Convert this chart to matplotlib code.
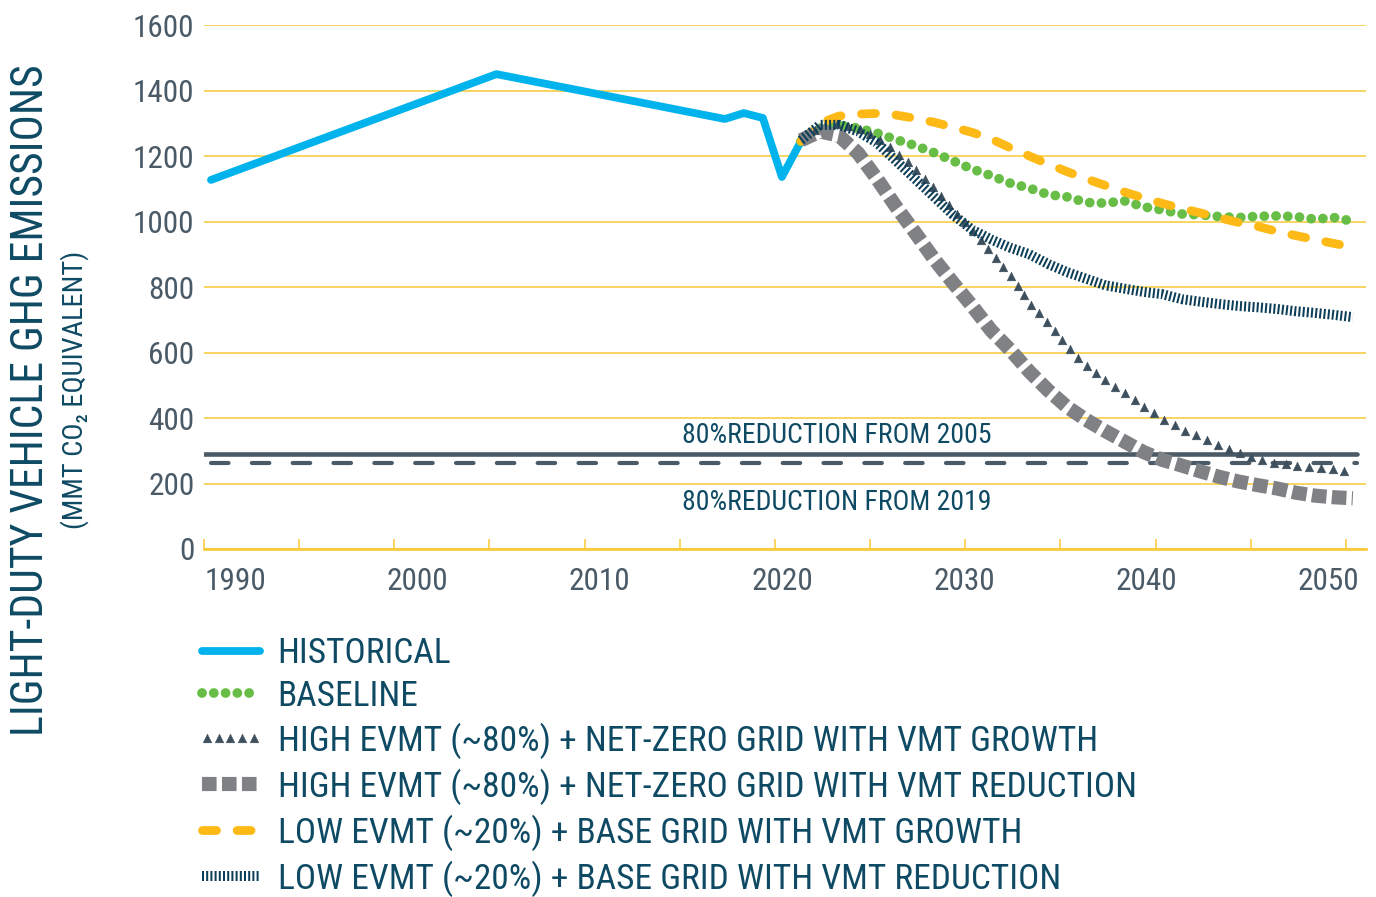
import numpy as np
import matplotlib
matplotlib.use("Agg")
import matplotlib.pyplot as plt
from matplotlib import font_manager, colors as mcolors, markers as mmarkers
from matplotlib.patheffects import AbstractPathEffect
from matplotlib.path import Path
from matplotlib.transforms import Affine2D, IdentityTransform
from matplotlib.ticker import FixedLocator

# ---------------- data ----------------
hist_years = [1990, 2005, 2017, 2018, 2019, 2020, 2021]
historical = [1127, 1450, 1313, 1331, 1316, 1136, 1245]

proj_years = list(range(2021, 2051))
baseline = [1245, 1285, 1295, 1285, 1270, 1250, 1232, 1210, 1185, 1160,
            1140, 1117, 1102, 1082, 1075, 1058, 1056, 1063, 1045, 1035,
            1023, 1020, 1015, 1012, 1016, 1017, 1015, 1007, 1012, 1001]
high_ev_growth = [1250, 1290, 1300, 1285, 1255, 1212, 1160, 1100, 1035, 975,
                  905, 838, 752, 690, 618, 560, 515, 478, 435, 398,
                  366, 341, 316, 294, 276, 262, 254, 250, 245, 235]
high_ev_reduction = [1248, 1275, 1262, 1209, 1130, 1045, 966, 885, 812, 742,
                     667, 608, 542, 484, 433, 394, 360, 328, 296, 272,
                     255, 237, 220, 206, 195, 185, 172, 163, 158, 155]
low_ev_growth = [1245, 1300, 1322, 1328, 1330, 1325, 1315, 1303, 1288, 1272,
                 1252, 1225, 1200, 1175, 1152, 1130, 1110, 1090, 1072, 1055,
                 1040, 1026, 1011, 997, 985, 970, 957, 945, 933, 922]
low_ev_reduction = [1248, 1295, 1295, 1275, 1240, 1185, 1130, 1075, 1020, 975,
                    945, 920, 900, 870, 845, 825, 805, 795, 785, 778,
                    763, 755, 748, 742, 738, 733, 726, 721, 715, 708]

y_ticks = [0, 200, 400, 600, 800, 1000, 1200, 1400, 1600]
x_tick_labels = ["1990", "2000", "2010", "2020", "2030", "2040", "2050"]
legend_labels = [
    "HISTORICAL",
    "BASELINE",
    "HIGH EVMT (~80%) + NET-ZERO GRID WITH VMT GROWTH",
    "HIGH EVMT (~80%) + NET-ZERO GRID WITH VMT REDUCTION",
    "LOW EVMT (~20%) + BASE GRID WITH VMT GROWTH",
    "LOW EVMT (~20%) + BASE GRID WITH VMT REDUCTION",
]
ref_labels = ["80%REDUCTION FROM 2005", "80%REDUCTION FROM 2019"]
reduction_share = 0.2
ylabel_main = "LIGHT-DUTY VEHICLE GHG EMISSIONS"
ylabel_sub = "(MMT CO\u2082 EQUIVALENT)"

# ---------------- fonts ----------------
_names = {f.name for f in font_manager.fontManager.ttflist}
FONT = "DejaVu Sans"
for cand in ["Liberation Sans Narrow", "Roboto Condensed", "Open Sans Condensed",
             "Noto Sans Display", "Roboto", "Lato"]:
    if cand in _names:
        FONT = cand
        break
plt.rcParams["font.family"] = [FONT, "DejaVu Sans"]

# ---------------- colours ----------------
C_HIST = "#00b3ec"
C_BASE = "#67bd45"
C_TRI = "#3e505e"
C_SQ = "#808185"
C_YEL = "#fdb915"
C_NAVY = "#0c3e58"
C_REF = "#4a5a67"
C_GRID = "#f8c935"
C_TEXT = "#0f4a64"
C_TICK = "#4a5a67"


class MarkerTrail(AbstractPathEffect):
    """Draw markers at equal arc-length spacing along the path."""

    def __init__(self, marker="^", size_pt=6.5, spacing_pt=8.6, color="k"):
        super().__init__()
        self.marker = mmarkers.MarkerStyle(marker)
        self.size_pt = size_pt
        self.spacing_pt = spacing_pt
        self.color = mcolors.to_rgba(color)

    def draw_path(self, renderer, gc, tpath, affine, rgbFace=None):
        verts = affine.transform(tpath.vertices)
        if len(verts) < 2:
            return
        seg = np.diff(verts, axis=0)
        d = np.hypot(seg[:, 0], seg[:, 1])
        cum = np.concatenate([[0.0], np.cumsum(d)])
        sp = renderer.points_to_pixels(self.spacing_pt)
        s = np.arange(sp * 0.4, cum[-1] + 1e-9, sp)
        px = np.interp(s, cum, verts[:, 0])
        py = np.interp(s, cum, verts[:, 1])
        mpath = self.marker.get_path().transformed(self.marker.get_transform())
        size = renderer.points_to_pixels(self.size_pt)
        mtrans = Affine2D().scale(size)
        gc0 = renderer.new_gc()
        gc0.copy_properties(gc)
        gc0.set_foreground(self.color)
        gc0.set_linewidth(0.3)
        renderer.draw_markers(gc0, mpath, mtrans, Path(np.column_stack([px, py])),
                              IdentityTransform(), self.color)
        gc0.restore()


# ---------------- figure ----------------
fig = plt.figure(figsize=(13.76, 8.97), dpi=100)
ax = fig.add_axes([204 / 1376, 348 / 897, 1162 / 1376, 524 / 897])
PX_PER_YEAR = 19.03
XMIN = 1990 - 7 / PX_PER_YEAR
XMAX = XMIN + 1162 / PX_PER_YEAR
ax.set_xlim(XMIN, XMAX)
ax.set_ylim(0, 1600)

for s in ["top", "right", "left"]:
    ax.spines[s].set_visible(False)
ax.spines["bottom"].set_color(C_GRID)
ax.spines["bottom"].set_linewidth(1.9)
ax.spines["bottom"].set_zorder(0.5)

ax.set_yticks(y_ticks)
ax.set_yticklabels([str(v) for v in y_ticks])
ax.yaxis.grid(True, color=C_GRID, linewidth=1.1)
ax.set_axisbelow(True)
ax.tick_params(axis="y", length=0, pad=7, labelsize=22.5, labelcolor=C_TICK)

# x tick marks every five years along the axis, labels placed separately
ax.xaxis.set_minor_locator(FixedLocator([XMIN + 5 * k for k in range(13)]))
label_pos = [XMIN + (31 + 182.3 * k) / PX_PER_YEAR for k in range(len(x_tick_labels))]
ax.set_xticks(label_pos)
ax.set_xticklabels(x_tick_labels)
ax.tick_params(axis="x", which="major", length=0, pad=13, labelsize=22.5, labelcolor=C_TICK)
ax.tick_params(axis="x", which="minor", direction="in", length=7.2, width=1.1, color=C_GRID)

# reference lines
ref_2005 = reduction_share * historical[hist_years.index(2005)]
ref_2019 = reduction_share * historical[hist_years.index(2019)]
ax.axhline(ref_2005, xmin=0, xmax=0.992, color=C_REF, lw=3.3, solid_capstyle="round", zorder=2)
ax.axhline(ref_2019, xmin=0.006, xmax=0.992, color=C_REF, lw=3.0,
           linestyle=(0, (4.2, 5.6)), dash_capstyle="round", zorder=2)
ax.text(2022.9, ref_2005 + 56, ref_labels[0], ha="center", va="center",
        fontsize=20, color=C_TEXT, zorder=3)
ax.text(2022.9, ref_2019 - 121, ref_labels[1], ha="center", va="center",
        fontsize=20, color=C_TEXT, zorder=3)

# series
l_hist, = ax.plot(hist_years, historical, color=C_HIST, lw=5.6,
                  solid_capstyle="round", solid_joinstyle="round", zorder=3,
                  label=legend_labels[0])
l_base, = ax.plot(proj_years, baseline, color=C_BASE, lw=7.0,
                  linestyle=(0, (0.01, 1.2)), dash_capstyle="round", zorder=4,
                  label=legend_labels[1])
l_yel, = ax.plot(proj_years, low_ev_growth, color=C_YEL, lw=6.3,
                 linestyle=(0, (1.6, 2.35)), dash_capstyle="round", zorder=5,
                 label=legend_labels[4])
l_tri, = ax.plot(proj_years, high_ev_growth, color=C_TRI, lw=1, zorder=6,
                 label=legend_labels[2])
l_tri.set_path_effects([MarkerTrail("^", size_pt=6.3, spacing_pt=8.5, color=C_TRI)])
l_sq, = ax.plot(proj_years, high_ev_reduction, color=C_SQ, lw=10.2,
                linestyle=(0, (1.03, 0.38)), dash_capstyle="butt", zorder=7,
                label=legend_labels[3])
l_navy, = ax.plot(proj_years, low_ev_reduction, color=C_NAVY, lw=7.2,
                  linestyle=(0, (0.2, 0.22)), dash_capstyle="butt", zorder=8,
                  label=legend_labels[5])

# y labels
fig.text(31 / 1376, 1 - 400 / 897, ylabel_main, rotation=90, ha="center", va="center",
         fontsize=31.5, color=C_TEXT)
fig.text(75 / 1376, 1 - 390 / 897, ylabel_sub, rotation=90, ha="center", va="center",
         fontsize=20.5, color=C_TEXT)

# legend
handles = [l_hist, l_base, l_tri, l_sq, l_yel, l_navy]
fs = 25.5
fig.legend(handles, legend_labels, loc="upper left",
           bbox_to_anchor=(202 / 1376, 1 - 637 / 897), frameon=False,
           fontsize=fs, handlelength=58 / (fs * 100 / 72), handletextpad=0.5,
           labelspacing=0.27, borderpad=0, borderaxespad=0, labelcolor=C_TEXT)

fig.savefig("out.png", dpi=100)
